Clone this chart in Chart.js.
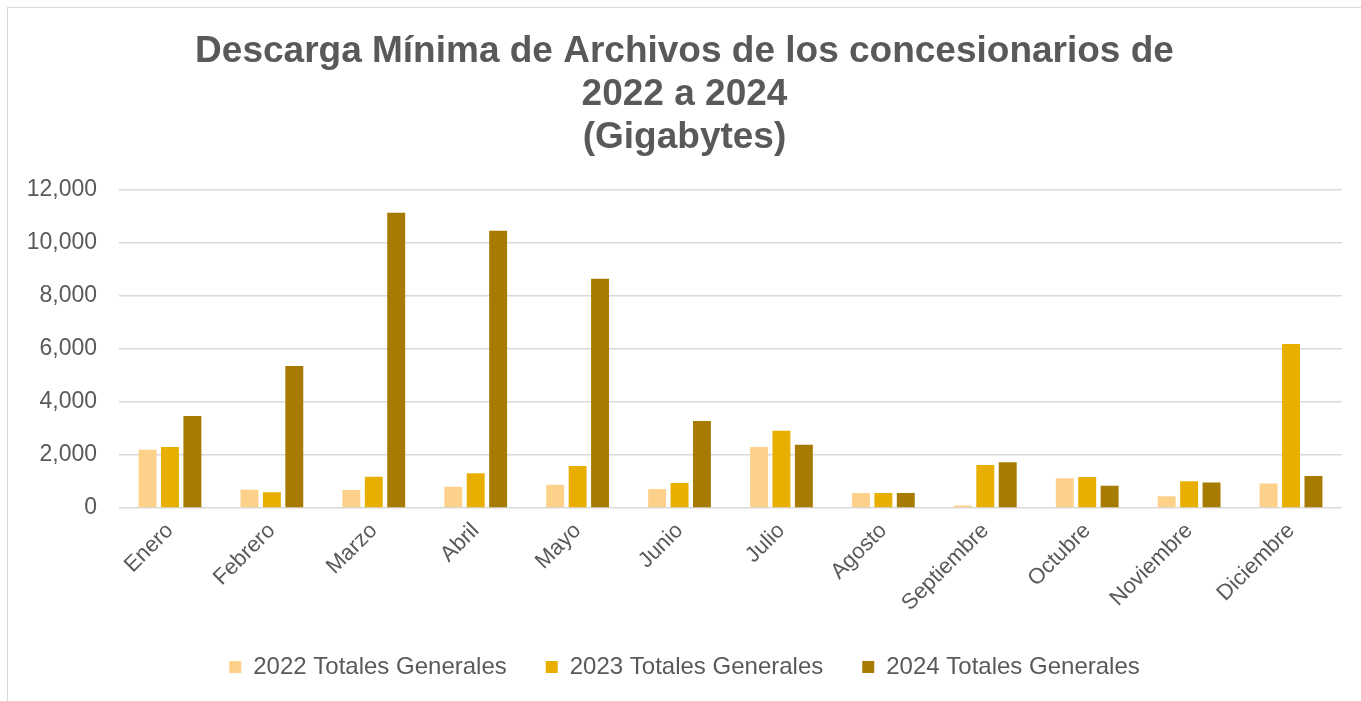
<!DOCTYPE html>
<html>
<head>
<meta charset="utf-8">
<script src="https://cdn.jsdelivr.net/npm/chart.js@4"></script>
<style>
  html, body { margin: 0; padding: 0; background: #fff; overflow: hidden; }
  #frame { position: absolute; left: 7px; top: 7px; width: 1400px; height: 800px; border: 1px solid #d9d9d9; }
  #wrap { position: absolute; left: 0; top: 0; width: 1361px; height: 701px; }
</style>
</head>
<body>
<div id="frame"></div>
<div id="wrap"><canvas id="barchart"></canvas></div>
<script>
// Datos
const meses = ['Enero', 'Febrero', 'Marzo', 'Abril', 'Mayo', 'Junio', 'Julio', 'Agosto', 'Septiembre', 'Octubre', 'Noviembre', 'Diciembre'];
const totales2022 = [2200, 690, 680, 800, 880, 720, 2300, 570, 90, 1120, 440, 920];
const totales2023 = [2300, 590, 1180, 1310, 1580, 940, 2910, 570, 1620, 1170, 1010, 6180];
const totales2024 = [3470, 5350, 11130, 10450, 8640, 3280, 2380, 570, 1720, 840, 960, 1210];
const series = ['2022 Totales Generales', '2023 Totales Generales', '2024 Totales Generales'];
const yTicks = [0, 2000, 4000, 6000, 8000, 10000, 12000];

const gris = '#595959';
const fuente = 'Arial, "Liberation Sans", sans-serif';

const data = {
  labels: meses,
  datasets: [
    { label: series[0], data: totales2022, backgroundColor: '#FED18B' },
    { label: series[1], data: totales2023, backgroundColor: '#E8AF00' },
    { label: series[2], data: totales2024, backgroundColor: '#A77A00' }
  ]
};

new Chart(document.getElementById('barchart'), {
  type: 'bar',
  data: data,
  options: {
    responsive: true,
    maintainAspectRatio: false,
    animation: false,
    datasets: {
      bar: { categoryPercentage: 0.66, barPercentage: 0.8 }
    },
    layout: { padding: { top: 31, left: 27, right: 19, bottom: 12 } },
    plugins: {
      title: {
        display: true,
        text: ['Descarga Mínima de Archivos de los concesionarios de', '2022 a 2024', '(Gigabytes)'],
        color: gris,
        font: { family: fuente, size: 37, weight: 'bold', lineHeight: 1.15 },
        padding: { top: 0, bottom: 31 }
      },
      legend: {
        position: 'bottom',
        labels: {
          color: gris,
          boxWidth: 12,
          boxHeight: 12,
          padding: 39,
          font: { family: fuente, size: 24 }
        }
      },
      tooltip: { enabled: false }
    },
    scales: {
      x: {
        grid: { display: false, drawTicks: false },
        border: { display: false },
        afterFit: axis => { axis.height = 108; },
        ticks: {
          color: gris,
          minRotation: 45,
          maxRotation: 45,
          padding: 10,
          font: { family: fuente, size: 22 }
        }
      },
      y: {
        min: 0,
        max: 12000,
        afterBuildTicks: axis => { axis.ticks = yTicks.map(v => ({ value: v })); },
        afterFit: axis => { axis.width = 92; },
        grid: { color: '#d9d9d9', lineWidth: 1.5, drawTicks: false },
        border: { display: false },
        ticks: {
          color: gris,
          padding: 22,
          font: { family: fuente, size: 23 },
          callback: v => v.toLocaleString('en-US')
        }
      }
    }
  }
});
</script>
</body>
</html>
